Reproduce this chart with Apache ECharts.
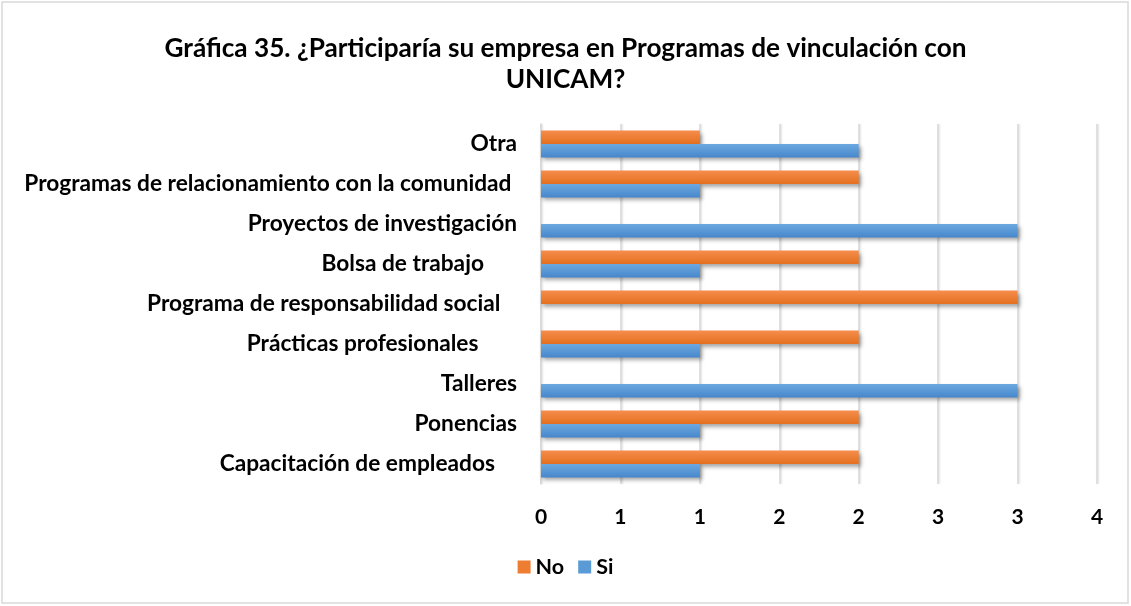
<!DOCTYPE html>
<html lang="es">
<head>
    <meta charset="UTF-8">
    <title>Gráfica 35</title>
    <script src="https://cdn.jsdelivr.net/npm/echarts@6/dist/echarts.min.js"></script>
    <style>
        html, body { margin: 0; padding: 0; background: #fff; }
        #chart { width: 1131px; height: 606px; }
    </style>
</head>
<body>
    <div id="chart"></div>
    <script type="text/javascript">
        // categorias de abajo hacia arriba (como las dibuja echarts)
        var categorias = [
            'Capacitación de empleados    ',
            'Ponencias',
            'Talleres',
            'Prácticas profesionales       ',
            'Programa de responsabilidad social   ',
            'Bolsa de trabajo      ',
            'Proyectos de investigación',
            'Programas de relacionamiento con la comunidad ',
            'Otra'
        ];
        var valoresNo = [2, 2, 0, 2, 3, 2, 0, 2, 1];
        var valoresSi = [1, 1, 3, 1, 0, 1, 3, 1, 2];
        var etiquetasX = ['0', '1', '1', '2', '2', '3', '3', '4'];

        var fuente = 'Lato, "Open Sans", sans-serif';

        function degradado(c1, c2) {
            return new echarts.graphic.LinearGradient(0, 0, 0, 1, [
                { offset: 0, color: c1 },
                { offset: 1, color: c2 }
            ]);
        }

        var myChart = echarts.init(document.getElementById('chart'));
        var option = {
            backgroundColor: '#fff',
            animation: false,
            title: {
                text: 'Gráfica 35. ¿Participaría su empresa en Programas de vinculación con\nUNICAM?',
                left: 'center',
                top: 28,
                textStyle: {
                    fontFamily: fuente,
                    fontWeight: 'bold',
                    fontSize: 26.2,
                    lineHeight: 31,
                    color: '#000'
                }
            },
            graphic: [{
                type: 'rect',
                shape: { x: 2, y: 2, width: 1126, height: 601 },
                style: { fill: 'none', stroke: '#d9d9d9', lineWidth: 1.5 },
                silent: true
            }],
            legend: {
                bottom: 23,
                left: 'center',
                itemWidth: 13,
                itemHeight: 13,
                itemGap: 14,
                icon: 'rect',
                textStyle: { fontFamily: fuente, fontWeight: 'bold', fontSize: 21.5, color: '#000' },
                data: [
                    { name: 'No', itemStyle: { color: '#ED7D31', shadowBlur: 0 } },
                    { name: 'Si', itemStyle: { color: '#5B9BD5', shadowBlur: 0 } }
                ]
            },
            grid: {
                left: 541,
                right: 34,
                top: 124,
                bottom: 122,
                containLabel: false
            },
            xAxis: {
                type: 'value',
                min: 0,
                max: 3.5,
                interval: 0.5,
                axisLine: { show: false },
                axisTick: { show: false },
                splitLine: {
                    show: true,
                    lineStyle: { color: '#d9d9d9', width: 1.5, shadowColor: 'rgba(0,0,0,0.15)', shadowBlur: 2, shadowOffsetX: 1 }
                },
                axisLabel: {
                    margin: 23,
                    fontFamily: fuente,
                    fontWeight: 'bold',
                    fontSize: 21,
                    color: '#000',
                    formatter: function (v) {
                        return etiquetasX[Math.round(v / 0.5)];
                    }
                }
            },
            yAxis: {
                type: 'category',
                data: categorias,
                axisLine: { show: true, lineStyle: { color: '#d9d9d9', width: 1.5 } },
                axisTick: { show: false },
                axisLabel: {
                    margin: 24,
                    fontFamily: fuente,
                    fontWeight: 'bold',
                    fontSize: 22.7,
                    color: '#000'
                }
            },
            series: [{
                name: 'No',
                type: 'bar',
                data: valoresNo,
                barGap: '0%',
                barCategoryGap: '33%',
                itemStyle: {
                    color: degradado('#F58D4C', '#E4701F'),
                    shadowColor: 'rgba(0,0,0,0.35)',
                    shadowBlur: 4,
                    shadowOffsetX: 2,
                    shadowOffsetY: 3
                }
            }, {
                name: 'Si',
                type: 'bar',
                data: valoresSi,
                barGap: '0%',
                barCategoryGap: '33%',
                itemStyle: {
                    color: degradado('#6CA8E0', '#4787CB'),
                    shadowColor: 'rgba(0,0,0,0.35)',
                    shadowBlur: 4,
                    shadowOffsetX: 2,
                    shadowOffsetY: 3
                }
            }]
        };
        myChart.setOption(option);
    </script>
</body>
</html>
